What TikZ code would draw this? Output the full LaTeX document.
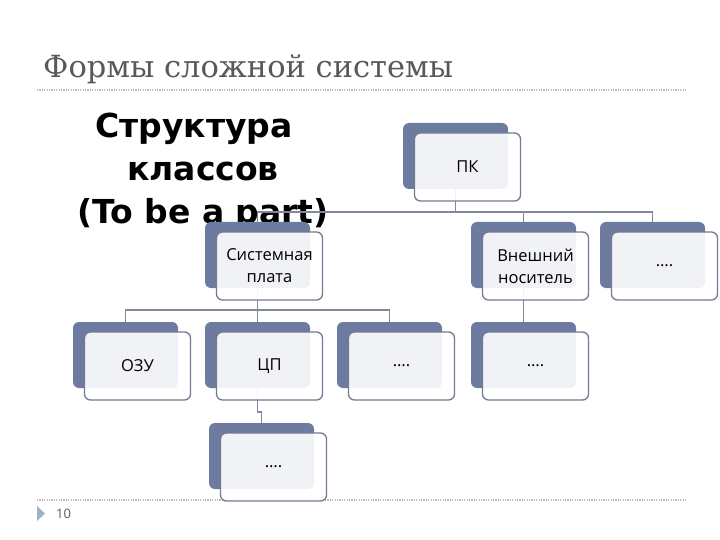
\documentclass[tikz,border=0pt]{standalone}
\usepackage{fontspec}
\setmainfont{DejaVu Serif}
\newfontfamily\boxfont{Open Sans}
\newfontfamily\headfont{DejaVu Sans}

\definecolor{slate}{RGB}{109,123,160}
\definecolor{edge}{RGB}{115,122,145}
\definecolor{wire}{RGB}{128,136,158}
\definecolor{titlegray}{RGB}{89,89,89}
\definecolor{rulegray}{RGB}{190,190,190}
\definecolor{marker}{RGB}{160,178,200}

\tikzset{
	backbox/.style={fill=slate, rounded corners=6pt, minimum width=105pt, minimum height=66pt, inner sep=0pt},
	frontbox/.style={draw=edge, line width=1.3pt, fill=white, fill opacity=0.9, text opacity=1, rounded corners=6pt,
		minimum width=106pt, minimum height=68pt, inner sep=0pt, align=center, font=\boxfont\fontsize{16.5}{22}\selectfont},
	link/.style={draw=wire, line width=1.3pt},
	dotrule/.style={draw=rulegray, line width=1.2pt, dash pattern=on 1.2pt off 1.2pt}
}

\begin{document}
\begin{tikzpicture}[x=1pt, y=-1pt]
	\useasboundingbox (0,0) rectangle (720,540);
	
	\coordinate (bus1) at (0,212);
	\coordinate (bus2) at (0,310);
	\coordinate (bus3) at (0,412);
	
	% title and rules
	\node[anchor=base west, inner sep=0pt, text=titlegray, font=\fontsize{30.5}{36}\selectfont] (title) at (43,78) {Формы сложной системы};
	\draw[dotrule] (37,90) -- (686,90);
	\draw[dotrule] (37,500) -- (686,500);
	\fill[marker] (37,506) -- (45,513.5) -- (37,521) -- cycle;
	\node[anchor=west, inner sep=0pt, text=titlegray, font=\boxfont\fontsize{13}{15}\selectfont] (pagenum) at (56,514) {10};
	
	\node[align=center, font=\headfont\bfseries\fontsize{33}{43}\selectfont] (heading) at (203,172) {Структура\hspace*{18pt}\\классов\\(To be a part)};
	
	% back boxes
	\node[backbox] (pcb) at (455.5,156) {};
	\node[backbox] (boardb) at (257.5,255) {};
	\node[backbox] (extb) at (523.5,255) {};
	\node[backbox] (misc1b) at (652.5,255) {};
	\node[backbox] (ramb) at (125.5,355) {};
	\node[backbox] (cpub) at (257.5,355) {};
	\node[backbox] (misc2b) at (389.5,355) {};
	\node[backbox] (misc3b) at (523.5,355) {};
	\node[backbox] (misc4b) at (261.5,456) {};
	
	% connectors
	\draw[link] (pcb.south) |- (boardb.north |- bus1) -- (boardb.north);
	\draw[link] (pcb.south) |- (extb.north |- bus1) -- (extb.north);
	\draw[link] (pcb.south) |- (misc1b.north |- bus1) -- (misc1b.north);
	\draw[link] (boardb.south) |- (ramb.north |- bus2) -- (ramb.north);
	\draw[link] (boardb.south) -- (cpub.north);
	\draw[link] (boardb.south) |- (misc2b.north |- bus2) -- (misc2b.north);
	\draw[link] (extb.south) -- (misc3b.north);
	\draw[link] (cpub.south) |- (misc4b.north |- bus3) -- (misc4b.north);
	
	% front boxes
	\node[frontbox] (pc) at ([shift={(12,11)}]pcb) {ПК};
	\node[frontbox] (board) at ([shift={(12,11)}]boardb) {Системная\\плата};
	\node[frontbox] (ext) at ([shift={(12,11)}]extb) {Внешний\\носитель};
	\node[frontbox] (misc1) at ([shift={(12,11)}]misc1b) {….};
	\node[frontbox] (ram) at ([shift={(12,11)}]ramb) {ОЗУ};
	\node[frontbox] (cpu) at ([shift={(12,11)}]cpub) {ЦП};
	\node[frontbox] (misc2) at ([shift={(12,11)}]misc2b) {….};
	\node[frontbox] (misc3) at ([shift={(12,11)}]misc3b) {….};
	\node[frontbox] (misc4) at ([shift={(12,11)}]misc4b) {….};
\end{tikzpicture}
\end{document}
